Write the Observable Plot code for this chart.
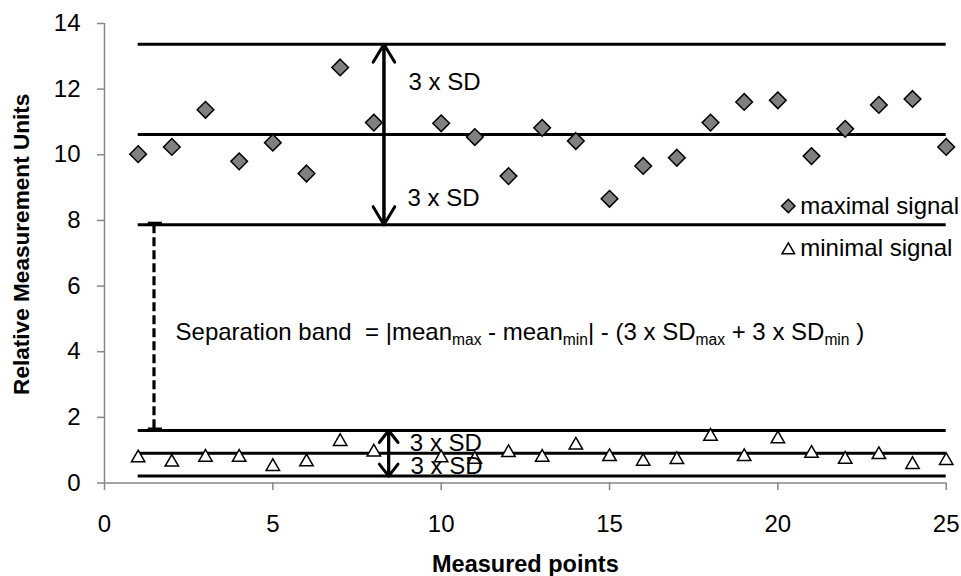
<!DOCTYPE html>
<html>
<head>
<meta charset="utf-8">
<script src="https://cdn.jsdelivr.net/npm/d3@7"></script>
<script src="https://cdn.jsdelivr.net/npm/@observablehq/plot@0.6"></script>
<style>
html, body { margin: 0; padding: 0; background: #ffffff; }
</style>
</head>
<body>
<div id="chart"></div>
<script>
// ---------- data ----------
const measuredPoints = [1, 2, 3, 4, 5, 6, 7, 8, 10, 11, 12, 13, 14, 15, 16, 17, 18, 19, 20, 21, 22, 23, 24, 25];
const maximalSignal = [10.02, 10.24, 11.37, 9.80, 10.37, 9.43, 12.66, 10.98, 10.96, 10.54, 9.35, 10.82, 10.42, 8.66, 9.66, 9.91, 10.98, 11.61, 11.66, 9.96, 10.79, 11.52, 11.70, 10.24];
const minimalSignal = [0.82, 0.69, 0.84, 0.84, 0.56, 0.70, 1.32, 1.00, 0.82, 0.78, 0.98, 0.84, 1.21, 0.86, 0.72, 0.77, 1.48, 0.86, 1.40, 0.96, 0.78, 0.92, 0.62, 0.74];
const maxLevels = [13.37, 10.62, 7.87];   // mean+3SD, mean, mean-3SD (maximal)
const minLevels = [1.60, 0.91, 0.21];     // mean+3SD, mean, mean-3SD (minimal)
const xTicks = [0, 5, 10, 15, 20, 25];
const yTicks = [0, 2, 4, 6, 8, 10, 12, 14];
const seriesNames = ["maximal signal", "minimal signal"];
const sdLabel = "3 x SD";
const xTitle = "Measured points";
const yTitle = "Relative Measurement Units";
const formulaParts = [
  ["Separation band  = |mean", false], ["max", true], [" - mean", false], ["min", true],
  ["| - (3 x SD", false], ["max", true], [" + 3 x SD", false], ["min", true], [" )", false]
];

// ---------- derived tables ----------
const maxData = measuredPoints.map((x, i) => ({x, y: maximalSignal[i]}));
const minData = measuredPoints.map((x, i) => ({x, y: minimalSignal[i]}));
const levelData = maxLevels.concat(minLevels);
const formulaText = formulaParts.map(p => p[0]).join("");

const axisGray = "#868686";
const FONT = "Arial, 'Liberation Sans', Helvetica, sans-serif";

const sdLabels = [
  {x: 9.03, y: 12.22}, {x: 9.0, y: 8.67},
  {x: 9.07, y: 1.22}, {x: 9.09, y: 0.51}
];
const upperArrows = [
  {x: 8.3, y1: maxLevels[2], y2: maxLevels[0]},
  {x: 8.3, y1: maxLevels[0], y2: maxLevels[2]}
];
const lowerArrows = [
  {x: 8.44, y1: minLevels[2], y2: minLevels[0]},
  {x: 8.44, y1: minLevels[0], y2: minLevels[2]}
];
const legend = [
  {name: seriesNames[0], x: 20.31, y: 8.44},
  {name: seriesNames[1], x: 20.31, y: 7.14}
];

const plot = Plot.plot({
  width: 961,
  height: 576,
  marginLeft: 104,
  marginRight: 15.3,
  marginTop: 23,
  marginBottom: 93.5,
  style: {fontFamily: FONT, fontSize: "24px", background: "#ffffff", color: "#000000"},
  x: {domain: [0, 25]},
  y: {domain: [0, 14]},
  marks: [
    Plot.axisY({ticks: yTicks, tickSize: 7, tickPadding: 17, stroke: axisGray, strokeWidth: 1.5, fill: "#000000", label: null}),
    Plot.axisX({ticks: xTicks, tickSize: 7.5, tickPadding: 24, stroke: axisGray, strokeWidth: 1.5, fill: "#000000", label: null}),
    Plot.ruleX([0], {y1: 0, y2: 14, stroke: axisGray, strokeWidth: 1.5}),
    Plot.ruleY([0], {x1: 0, x2: 25, stroke: axisGray, strokeWidth: 1.5}),
    // mean and ±3SD lines
    Plot.ruleY(levelData, {y: d => d, x1: 1, x2: 25, stroke: "#000000", strokeWidth: 3}),
    // separation band (dashed)
    Plot.ruleX([{x: 1.47, y1: maxLevels[2], y2: minLevels[0]}], {x: "x", y1: "y1", y2: "y2", stroke: "#000000", strokeWidth: 3.2, strokeDasharray: "9,4"}),
    Plot.ruleY([maxLevels[2], minLevels[0]], {y: d => d, x1: 1.3, x2: 1.72, stroke: "#000000", strokeWidth: 3, dy: -1.5}),
    // points
    Plot.dot(maxData, {x: "x", y: "y", symbol: "diamond2", r: 7.5, fill: "#808080", stroke: "#000000", strokeWidth: 1.5}),
    Plot.dot(minData, {x: "x", y: "y", symbol: "triangle2", r: 6.4, fill: "#ffffff", stroke: "#000000", strokeWidth: 1.5, dy: 1.9}),
    // double arrows
    Plot.arrow(upperArrows, {x: "x", y1: "y1", y2: "y2", stroke: "#000000", strokeWidth: 3, headLength: 10.5, headAngle: 62}),
    Plot.arrow(lowerArrows, {x: "x", y1: "y1", y2: "y2", stroke: "#000000", strokeWidth: 3, headLength: 8.5, headAngle: 76}),
    Plot.text(sdLabels, {x: "x", y: "y", text: () => sdLabel, textAnchor: "start", fill: "#000000"}),
    // formula
    Plot.text([formulaText], {x: () => 2.11, y: () => 4.6, text: d => d, textAnchor: "start", fill: "#000000"}),
    // legend
    Plot.dot(legend.slice(0, 1), {x: "x", y: "y", symbol: "diamond2", r: 6, fill: "#808080", stroke: "#000000", strokeWidth: 1.5}),
    Plot.dot(legend.slice(1), {x: "x", y: "y", symbol: "triangle2", r: 6, fill: "#ffffff", stroke: "#000000", strokeWidth: 1.5, dy: 1.5}),
    Plot.text(legend, {x: d => d.x, y: "y", text: "name", textAnchor: "start", dx: 12, fill: "#000000"}),
    // axis titles
    Plot.text([yTitle], {text: d => d, frameAnchor: "left", rotate: -90, textAnchor: "middle", lineAnchor: "top", dx: -92, dy: -9, fontWeight: "bold", fontSize: 22.6, fill: "#000000"}),
    Plot.text([xTitle], {text: d => d, frameAnchor: "bottom", textAnchor: "middle", lineAnchor: "bottom", dy: 89, fontWeight: "bold", fontSize: 23.5, fill: "#000000"})
  ]
});

// rich text for subscripts in the formula
d3.select(plot).selectAll("text")
  .filter(function () { return this.textContent === formulaText; })
  .each(function () {
    const t = d3.select(this);
    t.text(null).attr("xml:space", "preserve").style("white-space", "pre");
    let wasSub = false;
    for (const [s, sub] of formulaParts) {
      const ts = t.append("tspan").text(s);
      if (sub && !wasSub) ts.attr("dy", 5).attr("font-size", "65%");
      else if (sub) ts.attr("font-size", "65%");
      else if (!sub && wasSub) ts.attr("dy", -5);
      wasSub = sub;
    }
  });

document.getElementById("chart").appendChild(plot);
</script>
</body>
</html>
